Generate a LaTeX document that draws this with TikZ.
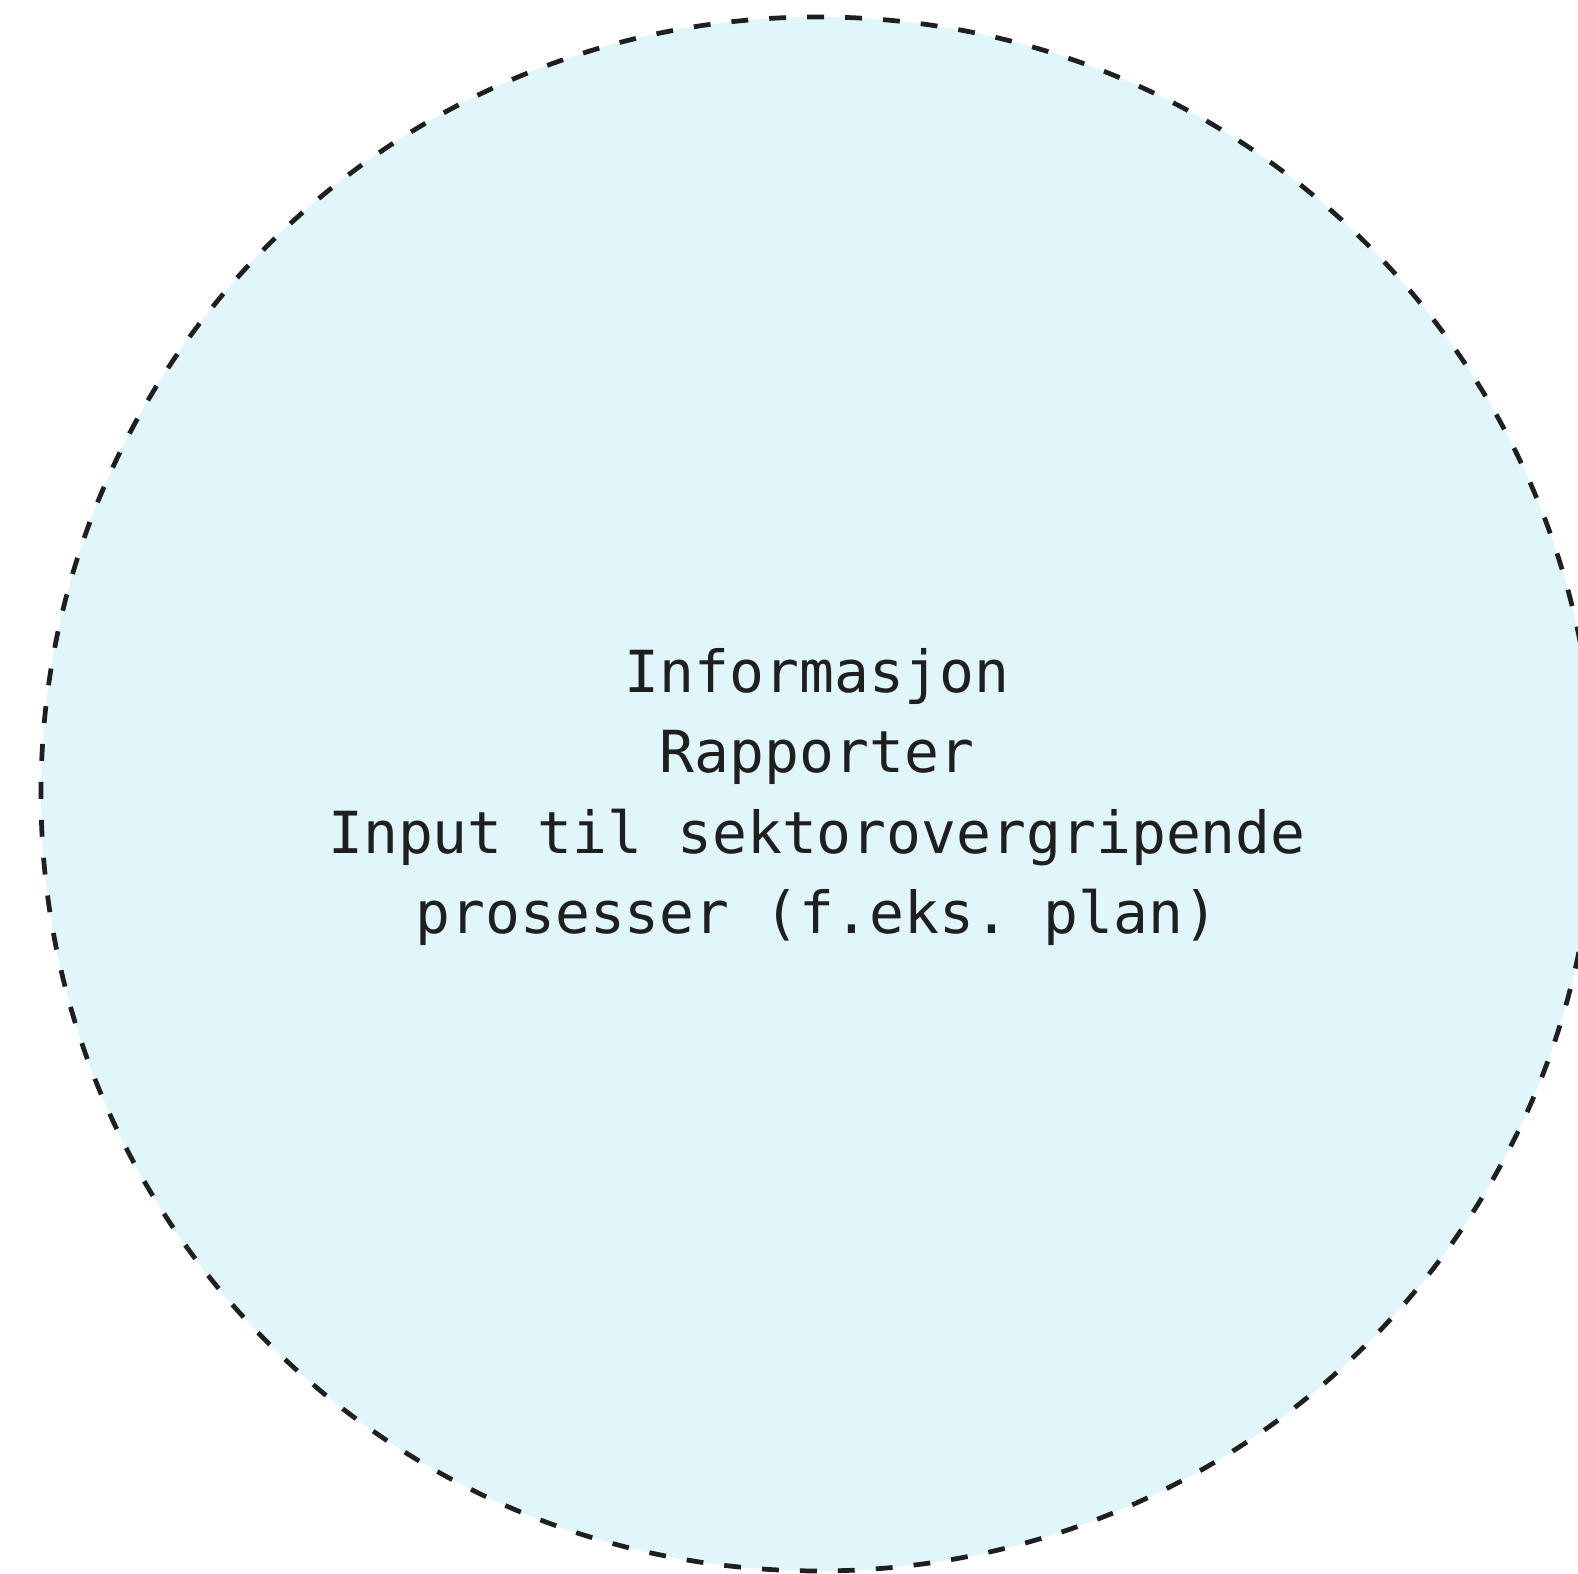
\documentclass[tikz,border=0pt]{standalone}
\usepackage{fontspec}
\setmonofont{DejaVu Sans Mono}
\definecolor{sone}{HTML}{E1F6FA}
\tikzset{
  ring/.style={draw=black!88, line width=1.35pt, dash pattern=on 4.8pt off 6pt, fill=sone},
  tekst/.style={align=center, font=\ttfamily\fontsize{16.5}{22.8}\selectfont, text=black!88}
}
\begin{document}
\begin{tikzpicture}
  % frame, the circle runs past the right edge
  \useasboundingbox (0,0) rectangle (15.78,15.74);
  \fill[white] (0,0) rectangle (15.78,15.74);
  \clip (0,0) rectangle (15.78,15.74);
  % circle with text
  \node[ring, circle, minimum size=15.54cm, inner sep=0pt] (sirkel) at (8.18,7.80) {};
  \node[tekst] (innhold) at (8.17,7.77) {Informasjon\\Rapporter\\Input til sektorovergripende\\prosesser (f.eks. plan)};
\end{tikzpicture}
\end{document}
